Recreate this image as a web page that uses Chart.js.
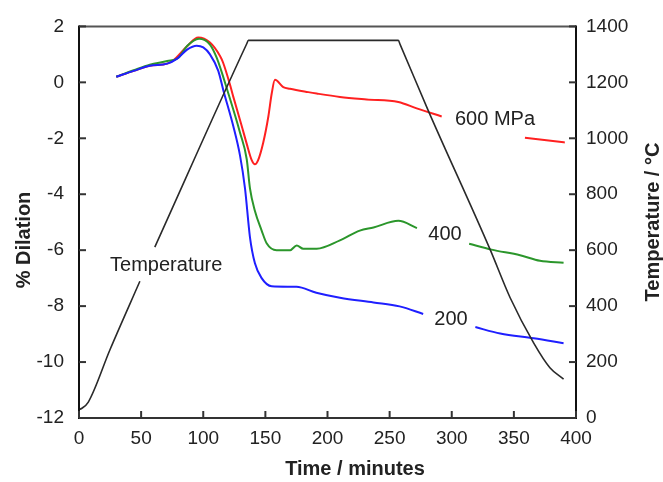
<!DOCTYPE html>
<html><head><meta charset="utf-8">
<script src="https://cdn.jsdelivr.net/npm/chart.js@4/dist/chart.umd.min.js"></script>
<style>html,body{margin:0;padding:0;background:#fff}#wrap{width:663px;height:482px;position:relative}</style>
</head><body><div id="wrap"><canvas id="c" width="663" height="482"></canvas></div>
<script>
// ---- data ----
const xTicks = [0, 50, 100, 150, 200, 250, 300, 350, 400];
const dilTicks = [-12, -10, -8, -6, -4, -2, 0, 2];
const tempTicks = [0, 200, 400, 600, 800, 1000, 1200, 1400];

const timeTemp = [0, 2, 7.5, 25, 49, 55, 61, 135, 136.3, 257, 258.5, 281, 331, 347, 366, 379, 390];
const tempC    = [30, 34, 57, 245, 489, null, 611, 1338, 1350, 1350, 1335, 1100, 601, 430, 268, 180, 139];

const time600 = [30, 44, 57, 71, 76, 87, 96, 105.4, 113.5, 116, 121.5, 124.2, 130.9, 135, 139, 141.6, 144, 148.3, 152.4, 155.1, 157.7, 164.4, 169.8, 184.5, 191.3, 210, 231.5, 257, 271.8, 291.9, 320, 358.9, 391];
const dil600  = [0.2, 0.41, 0.59, 0.67, 0.79, 1.29, 1.60, 1.42, 0.94, 0.70, -0.08, -0.52, -1.55, -2.2, -2.78, -2.93, -2.8, -2.15, -1.22, -0.40, 0.09, -0.17, -0.23, -0.35, -0.40, -0.52, -0.61, -0.70, -0.93, -1.22, null, -1.98, -2.15];

const time400 = [30, 44, 57, 71, 80, 87, 96.6, 105.4, 110.8, 120.2, 129.6, 135, 137.6, 141.6, 147, 151, 159, 170, 175.2, 180.5, 191.3, 210, 226, 237, 257, 272, 295, 314, 332, 355, 371, 390];
const dil400  = [0.2, 0.43, 0.63, 0.76, 0.88, 1.3, 1.56, 1.35, 0.88, -0.40, -1.80, -2.75, -3.79, -4.60, -5.30, -5.75, -6.0, -6.0, -5.83, -5.95, -5.95, -5.65, -5.30, -5.19, -4.95, -5.21, null, -5.77, -5.98, -6.18, -6.38, -6.45];

const time200 = [30, 44, 57, 71, 79, 87, 94.7, 100, 105.4, 112.1, 116.2, 124.2, 129.6, 133.6, 137.6, 141.6, 147, 155, 175, 191, 210, 237, 258, 277, 300, 319, 339, 366, 390];
const dil200  = [0.2, 0.41, 0.59, 0.67, 0.85, 1.17, 1.31, 1.25, 1.0, 0.41, -0.29, -1.57, -2.62, -3.79, -5.54, -6.47, -7.0, -7.29, -7.31, -7.52, -7.70, -7.87, -8.01, -8.28, null, -8.75, -8.98, -9.15, -9.33];

const labelTexts = ['600 MPa', '400', '200', 'Temperature'];
const labelTime  = [302.6, 281.1, 286, 25];
const labelDil   = [-1.33, -5.44, -8.48, -6.53];

// ---- build ----
const pts = (xs, ys) => xs.map((x, i) => ({x: x, y: ys[i]}));
const FONT = "'Liberation Sans', Arial, sans-serif";
const INK = '#222';

const decor = {
  id: 'decor',
  afterDraw(chart) {
    const {ctx, chartArea: a, scales} = chart;
    const sx = scales.x, sy = scales.y, s2 = scales.y2;
    ctx.save();
    // frame
    ctx.lineWidth = 2;
    ctx.strokeStyle = '#555';
    ctx.beginPath(); ctx.moveTo(a.left, a.top); ctx.lineTo(a.right, a.top); ctx.stroke();
    ctx.strokeStyle = '#333';
    ctx.beginPath(); ctx.moveTo(a.left, a.bottom); ctx.lineTo(a.right, a.bottom); ctx.stroke();
    ctx.strokeStyle = '#111';
    ctx.beginPath(); ctx.moveTo(a.left, a.top - 1); ctx.lineTo(a.left, a.bottom + 1); ctx.stroke();
    ctx.beginPath(); ctx.moveTo(a.right, a.top - 1); ctx.lineTo(a.right, a.bottom + 1); ctx.stroke();
    // inward ticks
    ctx.strokeStyle = '#333';
    ctx.lineWidth = 2;
    const L = 7;
    xTicks.forEach(v => { const p = sx.getPixelForValue(v); ctx.beginPath(); ctx.moveTo(p, a.bottom); ctx.lineTo(p, a.bottom - L); ctx.stroke(); });
    dilTicks.forEach(v => { const p = sy.getPixelForValue(v); ctx.beginPath(); ctx.moveTo(a.left, p); ctx.lineTo(a.left + L, p); ctx.stroke(); });
    tempTicks.forEach(v => { const p = s2.getPixelForValue(v); ctx.beginPath(); ctx.moveTo(a.right, p); ctx.lineTo(a.right - L, p); ctx.stroke(); });
    // series labels
    ctx.fillStyle = INK;
    ctx.font = '20px ' + FONT;
    ctx.textAlign = 'left';
    ctx.textBaseline = 'middle';
    labelTexts.forEach((t, i) => ctx.fillText(t, sx.getPixelForValue(labelTime[i]), sy.getPixelForValue(labelDil[i])));
    // axis titles
    ctx.font = 'bold 20px ' + FONT;
    ctx.textAlign = 'center';
    ctx.fillText('Time / minutes', 355, 469);
    ctx.save(); ctx.translate(24, 240); ctx.rotate(-Math.PI / 2); ctx.fillText('% Dilation', 0, 0); ctx.restore();
    ctx.save(); ctx.translate(653, 222); ctx.rotate(-Math.PI / 2); ctx.fillText('Temperature / \u00B0C', 0, 0); ctx.restore();
    ctx.restore();
  }
};

const lineDs = (data, color, axis, width) => ({
  data: data, borderColor: color, borderWidth: width, pointRadius: 0, fill: false,
  yAxisID: axis, cubicInterpolationMode: 'monotone', spanGaps: false
});

new Chart(document.getElementById('c'), {
  type: 'line',
  data: {
    datasets: [
      lineDs(pts(timeTemp, tempC), '#2a2a2a', 'y2', 1.6),
      lineDs(pts(time200, dil200), '#1f1fff', 'y', 2),
      lineDs(pts(time400, dil400), '#2b962b', 'y', 2),
      lineDs(pts(time600, dil600), '#ff2020', 'y', 2)
    ]
  },
  options: {
    responsive: false, animation: false, devicePixelRatio: 1,
    layout: {padding: {top: 18, left: 0, right: 0, bottom: 0}},
    plugins: {legend: {display: false}, tooltip: {enabled: false}},
    scales: {
      x: {
        type: 'linear', min: 0, max: 400, position: 'bottom',
        afterBuildTicks: s => { s.ticks = xTicks.map(v => ({value: v})); },
        afterFit: s => { s.height = 64; },
        grid: {display: false, drawTicks: false}, border: {display: false},
        ticks: {font: {family: FONT, size: 19}, color: INK, padding: 9, maxRotation: 0, callback: v => String(v)}
      },
      y: {
        type: 'linear', min: -12, max: 2, position: 'left',
        afterBuildTicks: s => { s.ticks = dilTicks.map(v => ({value: v})); },
        afterFit: s => { s.width = 79; },
        grid: {display: false, drawTicks: false}, border: {display: false},
        ticks: {font: {family: FONT, size: 19}, color: INK, padding: 15, callback: v => String(v)}
      },
      y2: {
        type: 'linear', min: 0, max: 1400, position: 'right',
        afterBuildTicks: s => { s.ticks = tempTicks.map(v => ({value: v})); },
        afterFit: s => { s.width = 87; },
        grid: {display: false, drawTicks: false}, border: {display: false},
        ticks: {font: {family: FONT, size: 19}, color: INK, padding: 10, callback: v => String(v)}
      }
    }
  },
  plugins: [decor]
});
</script>
</body></html>
